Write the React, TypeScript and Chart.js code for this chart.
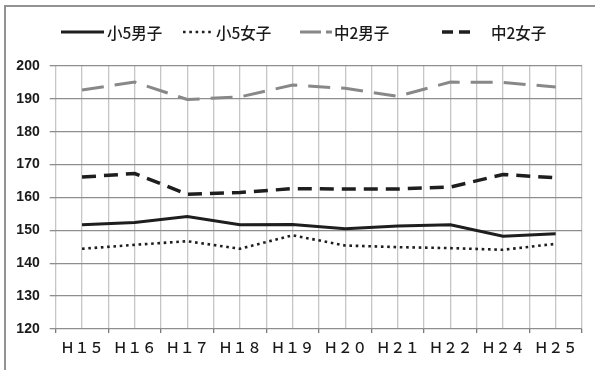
import { useEffect, useRef } from "react";
import { Chart, registerables } from "chart.js";

Chart.register(...registerables);

// 年度（H23 はデータなし）
const years = ["Ｈ１５", "Ｈ１６", "Ｈ１７", "Ｈ１８", "Ｈ１９", "Ｈ２０", "Ｈ２１", "Ｈ２２", "Ｈ２４", "Ｈ２５"];

// 平均身長 (cm)
const elemBoys = [151.7, 152.4, 154.2, 151.7, 151.8, 150.5, 151.3, 151.7, 148.2, 149.0];
const elemGirls = [144.4, 145.6, 146.7, 144.4, 148.5, 145.4, 144.9, 144.6, 144.1, 145.9];
const juniorBoys = [192.7, 195.1, 189.8, 190.6, 194.2, 193.2, 190.8, 195.1, 195.0, 193.6];
const juniorGirls = [166.2, 167.3, 161.0, 161.5, 162.7, 162.6, 162.6, 163.2, 167.0, 166.0];

const seriesNames = ["小5男子", "小5女子", "中2男子", "中2女子"];

const yMin = 120;
const yMax = 200;
const yStep = 10;

const INK = "#1e1e1e";
const GREY_LINE = "#888888";

// 凡例の配置（線の始点・終点・文字の位置）
const legendSlots = [
  { x0: 61, x1: 104, tx: 107 },
  { x0: 183, x1: 213, tx: 216 },
  { x0: 300, x1: 332, tx: 334 },
  { x0: 442, x1: 471, tx: 491 },
];
const legendDash = [[], [2.6, 3.7], [21, 5], [11, 6]];

const framePlugin = {
  id: "frame",
  beforeDraw(chart: any) {
    const ctx = chart.ctx;
    ctx.save();
    ctx.strokeStyle = "#929292";
    ctx.lineWidth = 2;
    ctx.beginPath();
    ctx.moveTo(5, 370);
    ctx.lineTo(5, 6);
    ctx.lineTo(595, 6);
    ctx.stroke();
    ctx.restore();
  },
};

const legendPlugin = {
  id: "lineLegend",
  afterDraw(chart: any) {
    const ctx = chart.ctx;
    const y = 32;
    ctx.save();
    chart.data.datasets.forEach((ds: any, i: number) => {
      const slot = legendSlots[i];
      ctx.beginPath();
      ctx.strokeStyle = ds.borderColor;
      ctx.lineWidth = ds.borderWidth;
      ctx.lineCap = "butt";
      ctx.setLineDash(legendDash[i]);
      ctx.moveTo(slot.x0, y);
      ctx.lineTo(slot.x1, y);
      ctx.stroke();
      ctx.setLineDash([]);
      ctx.fillStyle = "#1a1a1a";
      ctx.font = '500 15.5px "Noto Sans CJK JP"';
      ctx.textBaseline = "middle";
      ctx.textAlign = "left";
      ctx.fillText(ds.label, slot.tx, y + 1);
    });
    ctx.restore();
  },
};

export default function App() {
  const canvasRef = useRef<HTMLCanvasElement | null>(null);

  useEffect(() => {
    const canvas = canvasRef.current;
    if (!canvas) return;

    const chart = new Chart(canvas, {
      type: "line",
      data: {
        labels: years,
        datasets: [
          {
            label: seriesNames[0],
            data: elemBoys,
            borderColor: INK,
            borderWidth: 3,
          },
          {
            label: seriesNames[1],
            data: elemGirls,
            borderColor: INK,
            borderWidth: 2.6,
            borderDash: [2.6, 3.7],
            borderCapStyle: "butt",
          },
          {
            label: seriesNames[2],
            data: juniorBoys,
            borderColor: GREY_LINE,
            borderWidth: 3,
            borderDash: [22, 11],
          },
          {
            label: seriesNames[3],
            data: juniorGirls,
            borderColor: INK,
            borderWidth: 3.5,
            borderDash: [14, 8],
          },
        ].map((d) => ({
          ...d,
          fill: false,
          tension: 0,
          pointRadius: 0,
          pointHoverRadius: 0,
          xAxisID: "x",
          yAxisID: "y",
        })),
      },
      options: {
        responsive: false,
        animation: false,
        events: [],
        layout: { padding: { top: 66, right: 13, left: 0, bottom: 0 } },
        plugins: {
          legend: { display: false },
          tooltip: { enabled: false },
          title: { display: false },
        },
        scales: {
          x: {
            type: "category",
            position: "bottom",
            offset: true,
            border: { display: false },
            grid: {
              offset: true,
              color: "#c6c6c6",
              lineWidth: 1.3,
              drawTicks: true,
              tickLength: 4,
              tickColor: "#7a7a7a",
            },
            ticks: {
              color: "#1a1a1a",
              font: { family: '"Noto Sans CJK JP"', size: 14.5, weight: "500" },
              padding: 6,
              maxRotation: 0,
              autoSkip: false,
            },
            afterFit(scale: any) {
              scale.height = 41;
            },
          },
          x2: {
            type: "category",
            position: "bottom",
            offset: true,
            border: { display: false },
            grid: {
              offset: false,
              color: "#c6c6c6",
              lineWidth: 1.3,
              drawTicks: false,
            },
            ticks: { display: false },
            afterFit(scale: any) {
              scale.height = 0;
            },
          },
          y: {
            min: yMin,
            max: yMax,
            border: { display: false },
            grid: {
              color: "#8e8e8e",
              lineWidth: 1.3,
              drawTicks: true,
              tickLength: 6,
            },
            ticks: {
              stepSize: yStep,
              color: "#1a1a1a",
              font: { family: '"Liberation Sans", Arial, sans-serif', size: 14, weight: "bold" },
              padding: 10,
            },
            afterFit(scale: any) {
              scale.width = 55.7;
            },
          },
        },
      },
      plugins: [framePlugin, legendPlugin],
    });

    return () => chart.destroy();
  }, []);

  return (
    <div style={{ position: "fixed", left: 0, top: 0, width: 595, height: 370, background: "#ffffff" }}>
      <canvas ref={canvasRef} width={595} height={370} style={{ display: "block" }} />
    </div>
  );
}
